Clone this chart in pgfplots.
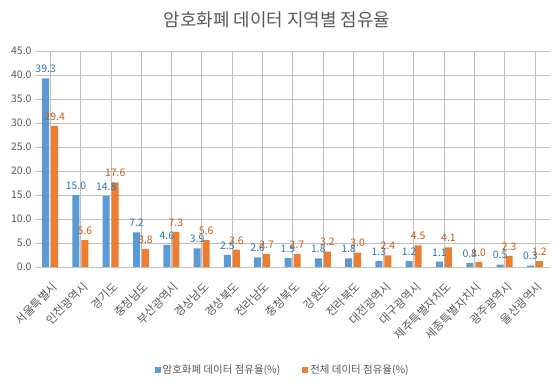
\documentclass[border=0pt]{standalone}
\usepackage{fontspec}
\setmainfont{Noto Sans CJK KR}
\usepackage{pgfplots}
\pgfplotsset{compat=1.18}
\definecolor{cblue}{HTML}{5B9BD5}
\definecolor{corange}{HTML}{ED7D31}
\definecolor{lblue}{HTML}{2E75B6}
\definecolor{lorange}{HTML}{C55A11}
\definecolor{txt}{HTML}{595959}
\definecolor{grid}{HTML}{D9D9D9}
\begin{document}
\begin{tikzpicture}
\useasboundingbox (0,0) rectangle (555bp,389bp);
\node[text=txt,font=\fontsize{18}{20}\selectfont] at (277bp,369bp) {암호화폐 데이터 지역별 점유율};
\begin{axis}[
  at={(35bp,122bp)}, anchor=south west,
  scale only axis, width=515bp, height=216bp,
  ybar=2bp, bar width=7bp,
  xmin=-0.5, xmax=16.5, ymin=0, ymax=45,
  ytick={0,5,...,45},
  /pgf/number format/fixed, /pgf/number format/fixed zerofill, /pgf/number format/precision=1, /pgf/number format/assume math mode=true,
  yticklabel style={text=txt,font=\fontsize{10.5}{12}\selectfont},
  ymajorgrids, grid style={grid},
  axis line style={draw=none},
  major tick length=0pt,
  xtick={0,...,16},
  xticklabels={서울특별시,인천광역시,경기도,충청남도,부산광역시,경상남도,경상북도,전라남도,충청북도,강원도,전라북도,대전광역시,대구광역시,제주특별자치도,세종특별자치시,광주광역시,울산광역시},
  xticklabel shift=14bp,
  xticklabel style={rotate=45,anchor=north east,xshift=2bp,text=txt,font=\fontsize{11.5}{13}\selectfont,inner sep=1bp},
  nodes near coords,
  nodes near coords style={font=\fontsize{10.5}{12}\selectfont,yshift=2bp},
  legend style={at={(0.481,-0.477)},anchor=center,draw=none,legend columns=2,font=\fontsize{10.5}{12}\selectfont,text=txt,/tikz/every even column/.append style={column sep=20bp}},
  legend image code/.code={\fill[#1] (0bp,-3bp) rectangle (6bp,3bp);},
]
\draw[grid] (axis cs:-0.5,0) -- (axis cs:16.5,0);
\addplot[fill=cblue,draw=none,nodes near coords style={text=lblue}] coordinates {
(0,39.3) (1,15.0) (2,14.8) (3,7.2) (4,4.6) (5,3.9) (6,2.5) (7,2.0) (8,1.9) (9,1.8) (10,1.8) (11,1.3) (12,1.2) (13,1.1) (14,0.8) (15,0.5) (16,0.3)};
\addplot[fill=corange,draw=none,nodes near coords style={text=lorange}] coordinates {
(0,29.4) (1,5.6) (2,17.6) (3,3.8) (4,7.3) (5,5.6) (6,3.6) (7,2.7) (8,2.7) (9,3.2) (10,3.0) (11,2.4) (12,4.5) (13,4.1) (14,1.0) (15,2.3) (16,1.2)};
\legend{암호화폐 데이터 점유율(\%),전체 데이터 점유율(\%)}
\end{axis}
\end{tikzpicture}
\end{document}
